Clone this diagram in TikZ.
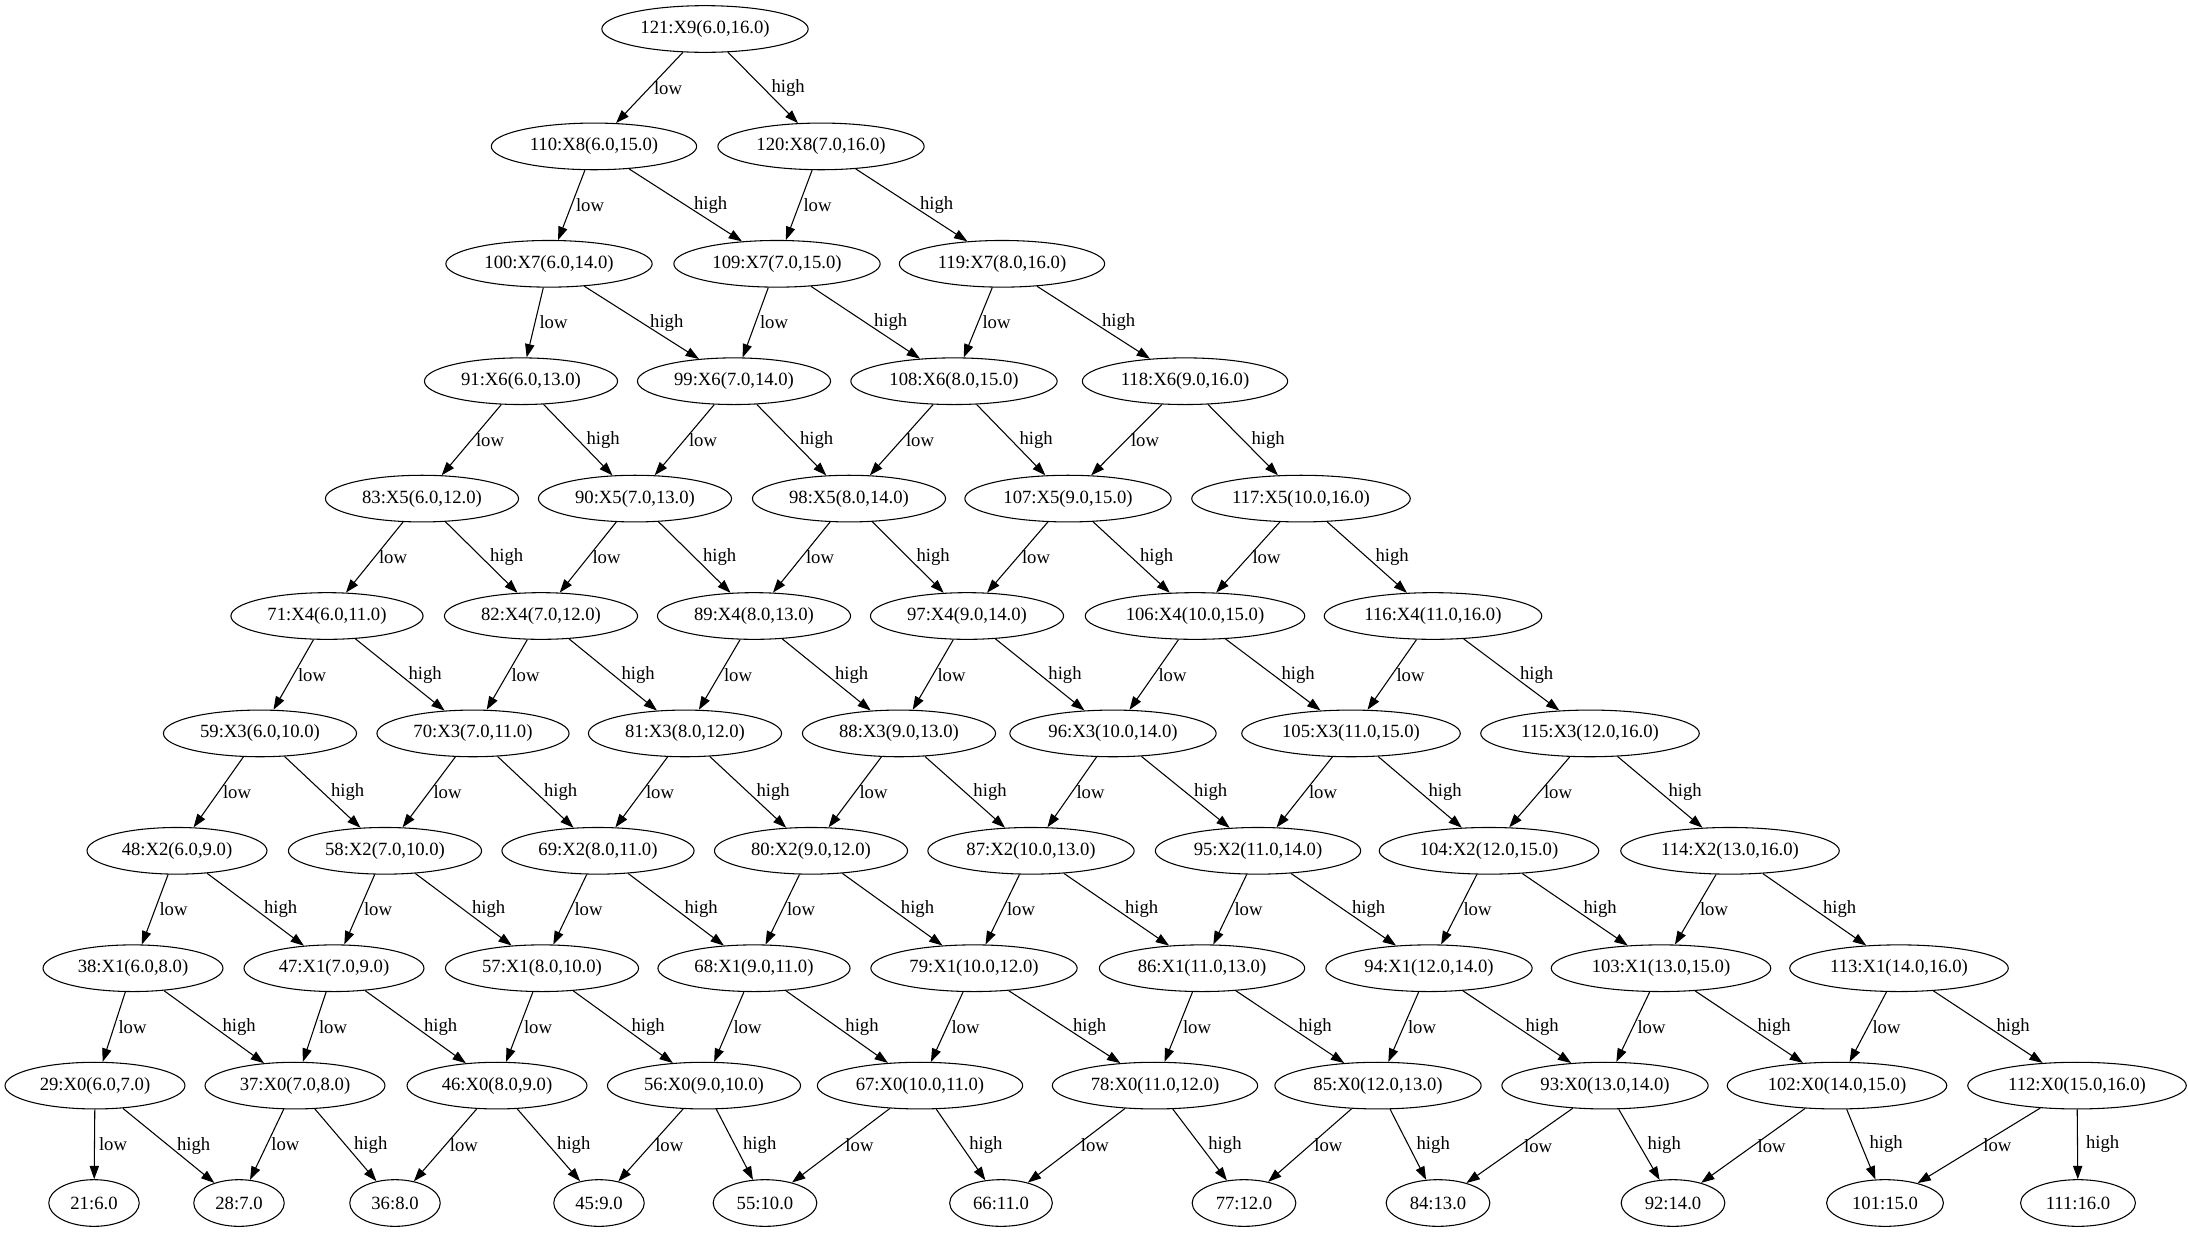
\documentclass[tikz,border=0pt]{standalone}
\usepackage{fontspec}
\setmainfont{Liberation Serif}
\usetikzlibrary{shapes.geometric,arrows.meta}

\begin{document}
\begin{tikzpicture}[x=0.75pt,y=-0.75pt,
		font=\fontsize{14pt}{16pt}\selectfont,
		>={Triangle[length=10pt,width=7pt]},
		knoten/.style={draw, ellipse, line width=0.8pt, inner xsep=6.3pt, inner ysep=1pt, minimum height=35pt},
		lowlbl/.style={midway, anchor=west, inner sep=0pt, xshift=3pt},
		highlbl/.style={midway, anchor=west, inner sep=0pt, xshift=6pt}]
		\useasboundingbox (0,0) rectangle (2188,1232);
		
		% Knoten X9 und X8
		\node[knoten] (k121) at (705,29) {121:X9(6.0,16.0)};
		\node[knoten] (k110) at (594,146.4) {110:X8(6.0,15.0)};
		\node[knoten] (k120) at (821,146.4) {120:X8(7.0,16.0)};
		
		% Knoten X7
		\node[knoten] (k100) at (549,263.8) {100:X7(6.0,14.0)};
		\node[knoten] (k109) at (777,263.8) {109:X7(7.0,15.0)};
		\node[knoten] (k119) at (1002,263.8) {119:X7(8.0,16.0)};
		
		% Knoten X6
		\node[knoten] (k91) at (521,381.2) {91:X6(6.0,13.0)};
		\node[knoten] (k99) at (734,381.2) {99:X6(7.0,14.0)};
		\node[knoten] (k108) at (954,381.2) {108:X6(8.0,15.0)};
		\node[knoten] (k118) at (1185,381.2) {118:X6(9.0,16.0)};
		
		% Knoten X5
		\node[knoten] (k83) at (422,498.6) {83:X5(6.0,12.0)};
		\node[knoten] (k90) at (635,498.6) {90:X5(7.0,13.0)};
		\node[knoten] (k98) at (849,498.6) {98:X5(8.0,14.0)};
		\node[knoten] (k107) at (1068,498.6) {107:X5(9.0,15.0)};
		\node[knoten] (k117) at (1301,498.6) {117:X5(10.0,16.0)};
		
		% Knoten X4
		\node[knoten] (k71) at (327,616) {71:X4(6.0,11.0)};
		\node[knoten] (k82) at (541,616) {82:X4(7.0,12.0)};
		\node[knoten] (k89) at (754,616) {89:X4(8.0,13.0)};
		\node[knoten] (k97) at (967,616) {97:X4(9.0,14.0)};
		\node[knoten] (k106) at (1195,616) {106:X4(10.0,15.0)};
		\node[knoten] (k116) at (1433,616) {116:X4(11.0,16.0)};
		
		% Knoten X3
		\node[knoten] (k59) at (260,733.4) {59:X3(6.0,10.0)};
		\node[knoten] (k70) at (473,733.4) {70:X3(7.0,11.0)};
		\node[knoten] (k81) at (685,733.4) {81:X3(8.0,12.0)};
		\node[knoten] (k88) at (899,733.4) {88:X3(9.0,13.0)};
		\node[knoten] (k96) at (1113,733.4) {96:X3(10.0,14.0)};
		\node[knoten] (k105) at (1351,733.4) {105:X3(11.0,15.0)};
		\node[knoten] (k115) at (1590,733.4) {115:X3(12.0,16.0)};
		
		% Knoten X2
		\node[knoten] (k48) at (177,850.8) {48:X2(6.0,9.0)};
		\node[knoten] (k58) at (385,850.8) {58:X2(7.0,10.0)};
		\node[knoten] (k69) at (598,850.8) {69:X2(8.0,11.0)};
		\node[knoten] (k80) at (811,850.8) {80:X2(9.0,12.0)};
		\node[knoten] (k87) at (1031,850.8) {87:X2(10.0,13.0)};
		\node[knoten] (k95) at (1258,850.8) {95:X2(11.0,14.0)};
		\node[knoten] (k104) at (1489,850.8) {104:X2(12.0,15.0)};
		\node[knoten] (k114) at (1730,850.8) {114:X2(13.0,16.0)};
		
		% Knoten X1
		\node[knoten] (k38) at (133,968.2) {38:X1(6.0,8.0)};
		\node[knoten] (k47) at (334,968.2) {47:X1(7.0,9.0)};
		\node[knoten] (k57) at (542,968.2) {57:X1(8.0,10.0)};
		\node[knoten] (k68) at (754,968.2) {68:X1(9.0,11.0)};
		\node[knoten] (k79) at (974,968.2) {79:X1(10.0,12.0)};
		\node[knoten] (k86) at (1202,968.2) {86:X1(11.0,13.0)};
		\node[knoten] (k94) at (1429,968.2) {94:X1(12.0,14.0)};
		\node[knoten] (k103) at (1661,968.2) {103:X1(13.0,15.0)};
		\node[knoten] (k113) at (1899,968.2) {113:X1(14.0,16.0)};
		
		% Knoten X0
		\node[knoten] (k29) at (95,1085.6) {29:X0(6.0,7.0)};
		\node[knoten] (k37) at (295,1085.6) {37:X0(7.0,8.0)};
		\node[knoten] (k46) at (497,1085.6) {46:X0(8.0,9.0)};
		\node[knoten] (k56) at (704,1085.6) {56:X0(9.0,10.0)};
		\node[knoten] (k67) at (920,1085.6) {67:X0(10.0,11.0)};
		\node[knoten] (k78) at (1155,1085.6) {78:X0(11.0,12.0)};
		\node[knoten] (k85) at (1378,1085.6) {85:X0(12.0,13.0)};
		\node[knoten] (k93) at (1605,1085.6) {93:X0(13.0,14.0)};
		\node[knoten] (k102) at (1837,1085.6) {102:X0(14.0,15.0)};
		\node[knoten] (k112) at (2077,1085.6) {112:X0(15.0,16.0)};
		
		% Blaetter
		\node[knoten] (k21) at (94,1203) {21:6.0};
		\node[knoten] (k28) at (239,1203) {28:7.0};
		\node[knoten] (k36) at (395,1203) {36:8.0};
		\node[knoten] (k45) at (599,1203) {45:9.0};
		\node[knoten] (k55) at (765,1203) {55:10.0};
		\node[knoten] (k66) at (1001,1203) {66:11.0};
		\node[knoten] (k77) at (1244,1203) {77:12.0};
		\node[knoten] (k84) at (1438,1203) {84:13.0};
		\node[knoten] (k92) at (1673,1203) {92:14.0};
		\node[knoten] (k101) at (1885,1203) {101:15.0};
		\node[knoten] (k111) at (2078,1203) {111:16.0};
		
		% Kanten: Knoten/low/high
		\foreach \p/\l/\h in {121/110/120,
				110/100/109, 120/109/119,
				100/91/99, 109/99/108, 119/108/118,
				91/83/90, 99/90/98, 108/98/107, 118/107/117,
				83/71/82, 90/82/89, 98/89/97, 107/97/106, 117/106/116,
				71/59/70, 82/70/81, 89/81/88, 97/88/96, 106/96/105, 116/105/115,
				59/48/58, 70/58/69, 81/69/80, 88/80/87, 96/87/95, 105/95/104, 115/104/114,
				48/38/47, 58/47/57, 69/57/68, 80/68/79, 87/79/86, 95/86/94, 104/94/103, 114/103/113,
				38/29/37, 47/37/46, 57/46/56, 68/56/67, 79/67/78, 86/78/85, 94/85/93, 103/93/102, 113/102/112,
				29/21/28, 37/28/36, 46/36/45, 56/45/55, 67/55/66, 78/66/77, 85/77/84, 93/84/92, 102/92/101, 112/101/111}
		{
			\draw[->, line width=0.8pt] (k\p) -- node[lowlbl] {low} (k\l);
			\draw[->, line width=0.8pt] (k\p) -- node[highlbl] {high} (k\h);
		}
	\end{tikzpicture}
\end{document}
